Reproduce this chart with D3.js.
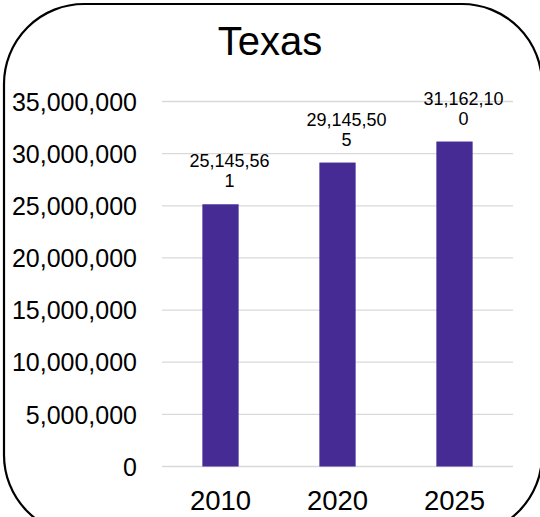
<!DOCTYPE html>
<html>
<head>
<meta charset="utf-8">
<script src="https://cdn.jsdelivr.net/npm/d3@7"></script>
<style>
  html, body { margin: 0; padding: 0; background: #fff; }
  svg { display: block; font-family: "Liberation Sans", Arial, sans-serif; }
</style>
</head>
<body>
<svg id="chart" width="540" height="517"></svg>
<script>
const title = "Texas";
const categories = ["2010", "2020", "2025"];
const values = [25145561, 29145505, 31162100];
const yTicks = [0, 5000000, 10000000, 15000000, 20000000, 25000000, 30000000, 35000000];

const svg = d3.select("#chart");
const W = 540, H = 517;
const plot = { left: 162, right: 513, top: 101.5, bottom: 466.5 };

// frame
svg.append("rect")
  .attr("x", 4).attr("y", 4)
  .attr("width", 538).attr("height", 531)
  .attr("rx", 80).attr("ry", 80)
  .attr("fill", "#fff")
  .attr("stroke", "#000")
  .attr("stroke-width", 2.2);

const x = d3.scaleBand()
  .domain(categories)
  .range([plot.left, plot.right])
  .paddingInner(0.69)
  .paddingOuter(0.345);

const y = d3.scaleLinear()
  .domain([0, 35000000])
  .range([plot.bottom, plot.top]);

const fmt = d3.format(",");

// gridlines
svg.append("g").selectAll("line")
  .data(yTicks)
  .join("line")
  .attr("x1", plot.left).attr("x2", plot.right)
  .attr("y1", d => y(d)).attr("y2", d => y(d))
  .attr("stroke", "#d9d9d9")
  .attr("stroke-width", 1.3);

// y axis labels
const yAxis = d3.axisLeft(y).tickValues(yTicks).tickFormat(fmt).tickSize(0).tickPadding(0);
const gy = svg.append("g").attr("transform", `translate(137,0)`).call(yAxis);
gy.select(".domain").remove();
gy.selectAll("text")
  .attr("font-size", 25)
  .attr("font-family", "Liberation Sans, Arial, sans-serif")
  .attr("fill", "#000")
  .attr("dy", "0.35em");

// x axis labels
const xAxis = d3.axisBottom(x).tickSize(0).tickPadding(0);
const gx = svg.append("g").attr("transform", `translate(0,${plot.bottom})`).call(xAxis);
gx.select(".domain").remove();
gx.selectAll("text")
  .attr("font-size", 27.5)
  .attr("font-family", "Liberation Sans, Arial, sans-serif")
  .attr("fill", "#000")
  .attr("dy", null)
  .attr("y", 43);

// bars
svg.append("g").selectAll("rect")
  .data(values)
  .join("rect")
  .attr("x", (d, i) => x(categories[i]))
  .attr("width", x.bandwidth())
  .attr("y", d => y(d))
  .attr("height", d => y(0) - y(d))
  .attr("fill", "#472B95");

// data labels (wrapped like the original)
const labels = svg.append("g").selectAll("text")
  .data(values)
  .join("text")
  .attr("text-anchor", "middle")
  .attr("font-size", 18)
  .attr("fill", "#000")
  .attr("x", (d, i) => x(categories[i]) + x.bandwidth() / 2 + 9)
  .attr("y", d => y(d) - 37);
labels.each(function(d) {
  const s = fmt(d);
  const parts = [s.slice(0, 9), s.slice(9)];
  const t = d3.select(this);
  const cx = t.attr("x");
  parts.forEach((p, k) => {
    t.append("tspan").attr("x", cx).attr("dy", k === 0 ? 0 : 20).text(p);
  });
});

// title
svg.append("text")
  .attr("x", W / 2)
  .attr("y", 55)
  .attr("text-anchor", "middle")
  .attr("font-size", 40)
  .attr("fill", "#000")
  .text(title);
</script>
</body>
</html>
